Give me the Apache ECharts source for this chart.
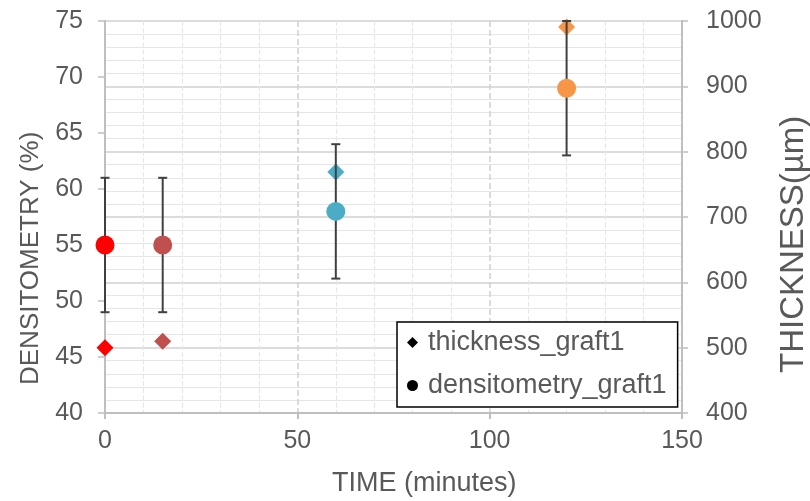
<!DOCTYPE html>
<html>
<head>
<meta charset="utf-8">
<script src="https://cdn.jsdelivr.net/npm/echarts@6/dist/echarts.min.js"></script>
<style>html,body{margin:0;padding:0;background:#fff}#c{width:810px;height:501px}</style>
</head>
<body>
<div id="c"></div>
<script>
const times = [0, 15, 60, 120];
const pointColors = ['#FF0000', '#C0504D', '#4BACC6', '#F79646'];
const densitometry = [55, 55, 58, 69];
const densErrLow = [49, 49, 52, 63];
const densErrHigh = [61, 61, 64, 75];
const thickness = [500, 510, 769, 991];
const xTicks = [0, 50, 100, 150];
const leftTicks = [40, 45, 50, 55, 60, 65, 70, 75];
const rightTicks = [400, 500, 600, 700, 800, 900, 1000];

const FONT = 'Liberation Sans, Arial, sans-serif';
const TXT = '#595959';

const chart = echarts.init(document.getElementById('c'), null, {renderer: 'canvas'});

const densData = times.map((t, i) => ({value: [t, densitometry[i]], itemStyle: {color: pointColors[i], opacity: 1}}));
const thickData = times.map((t, i) => ({value: [t, thickness[i]], itemStyle: {color: pointColors[i], opacity: 1}}));
const errData = times.map((t, i) => [t, densErrLow[i], densErrHigh[i]]);

chart.setOption({
  animation: false,
  backgroundColor: '#fff',
  grid: {left: 105, right: 128, top: 21, bottom: 88},
  legend: {
    orient: 'vertical',
    left: 397, top: 322,
    data: [{name: 'thickness_graft1', icon: 'diamond'}, {name: 'densitometry_graft1', icon: 'circle'}],
    itemWidth: 11, itemHeight: 11, itemGap: 16,
    padding: [7, 11, 8, 10],
    borderColor: '#000', borderWidth: 1.5, backgroundColor: '#fff',
    textStyle: {fontFamily: FONT, fontSize: 27, color: TXT, padding: [0, 0, 0, 5]}
  },
  xAxis: {
    type: 'value', min: 0, max: 150, interval: 50,
    axisLine: {show: true, lineStyle: {color: '#BFBFBF', width: 2}},
    axisTick: {show: true, length: 6, lineStyle: {color: '#BFBFBF', width: 2}},
    axisLabel: {fontFamily: FONT, fontSize: 25, color: TXT, margin: 16, formatter: v => String(v)},
    splitLine: {show: true, lineStyle: {color: '#D0D0D0', width: 1.5, type: 'dashed'}},
    minorTick: {show: false, splitNumber: 5},
    minorSplitLine: {show: true, lineStyle: {color: '#E6E6E6', width: 1.2, type: 'dashed'}}
  },
  yAxis: [
    {
      type: 'value', min: 40, max: 75, interval: 5, position: 'left',
      axisLine: {show: true, lineStyle: {color: '#BFBFBF', width: 2}},
      axisTick: {show: true, length: 7, lineStyle: {color: '#BFBFBF', width: 1.5}},
      axisLabel: {fontFamily: FONT, fontSize: 25, color: TXT, margin: 22, formatter: v => String(v)},
      splitLine: {show: false}
    },
    {
      type: 'value', min: 400, max: 1000, interval: 100, position: 'right',
      axisLine: {show: true, lineStyle: {color: '#BFBFBF', width: 2}},
      axisTick: {show: true, length: 6, lineStyle: {color: '#BFBFBF', width: 1.5}},
      axisLabel: {fontFamily: FONT, fontSize: 25, color: TXT, margin: 24, formatter: v => String(v)},
      splitLine: {show: true, lineStyle: {color: '#D0D0D0', width: 1.5}},
      minorTick: {show: false, splitNumber: 5},
      minorSplitLine: {show: true, lineStyle: {color: '#E6E6E6', width: 1.2}}
    }
  ],
  graphic: [
    {type: 'text', left: 332, top: 470, style: {text: 'TIME (minutes)', font: '27px ' + FONT, fill: TXT}},
    {type: 'text', rotation: Math.PI / 2, x: 18, y: 385, style: {text: 'DENSITOMETRY (%)', font: '26px ' + FONT, fill: TXT, textVerticalAlign: 'top'}},
    {type: 'text', rotation: Math.PI / 2, x: 777, y: 373, style: {text: 'THICKNESS(µm)', font: '33px ' + FONT, fill: TXT, textVerticalAlign: 'top'}}
  ],
  series: [
    {
      name: 'thickness_graft1', type: 'scatter', yAxisIndex: 1, symbol: 'diamond', symbolSize: 17,
      itemStyle: {color: '#000', opacity: 1}, data: thickData, clip: false, z: 2
    },
    {
      name: 'errbars', type: 'custom', yAxisIndex: 0, z: 3, clip: false,
      data: errData,
      renderItem: function (params, api) {
        const x = api.value(0), lo = api.value(1), hi = api.value(2);
        const p1 = api.coord([x, lo]), p2 = api.coord([x, hi]);
        const w = 4.5;
        const st = {stroke: '#404040', lineWidth: 2};
        return {type: 'group', children: [
          {type: 'line', shape: {x1: p1[0], y1: p1[1], x2: p2[0], y2: p2[1]}, style: st},
          {type: 'line', shape: {x1: p1[0] - w, y1: p1[1], x2: p1[0] + w, y2: p1[1]}, style: st},
          {type: 'line', shape: {x1: p2[0] - w, y1: p2[1], x2: p2[0] + w, y2: p2[1]}, style: st}
        ]};
      }
    },
    {
      name: 'densitometry_graft1', type: 'scatter', yAxisIndex: 0, symbol: 'circle', symbolSize: 19,
      itemStyle: {color: '#000', opacity: 1}, data: densData, clip: false, z: 4
    }
  ]
});
</script>
</body>
</html>
